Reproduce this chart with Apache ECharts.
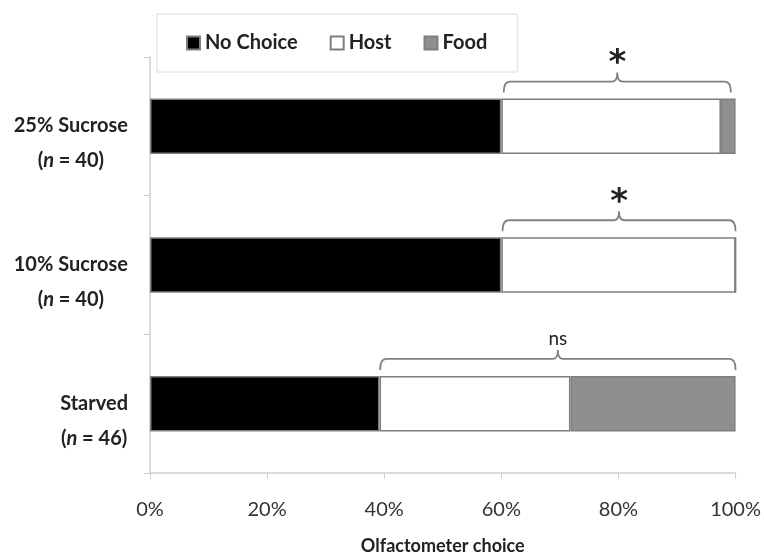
<!DOCTYPE html>
<html>
<head>
<meta charset="utf-8">
<script src="https://cdn.jsdelivr.net/npm/echarts@6/dist/echarts.min.js"></script>
<style>
  html, body { margin: 0; padding: 0; background: #fff; }
  #chart { width: 764px; height: 560px; }
</style>
</head>
<body>
<div id="chart"></div>
<script>
  // data (percent of insects)
  const categories = ['25% Sucrose', '10% Sucrose', 'Starved']
  const sampleSizes = [40, 40, 46]
  const noChoice = [60, 60, 39.2]
  const host = [37.5, 40, 32.6]
  const food = [2.5, 0, 28.2]
  const xTicks = [0, 20, 40, 60, 80, 100]

  // significance brackets over the choosing insects
  const bracketStart = [60.4, 60.2, 39.3]
  const bracketEnd = [99.2, 100, 100]
  const bracketLabels = ['*', '*', 'ns']

  const font = 'Lato, "Open Sans", sans-serif'
  const chart = echarts.init(document.getElementById('chart'))

  const barStyle = (color) => ({
    color: color,
    borderColor: '#7f7f7f',
    borderWidth: 1.5
  })

  function renderBracket(params, api) {
    const x1 = api.value(0)
    const x2 = api.value(1)
    const cat = api.value(2)
    const p1 = api.coord([x1, cat])
    const p2 = api.coord([x2, cat])
    const band = api.size([0, 1])[1]
    const barTop = p1[1] - band * 0.2
    const y = barTop - 17
    const xm = (p1[0] + p2[0]) / 2
    const a = p1[0]
    const b = p2[0]
    const d = 'M' + a + ' ' + (y + 11) +
      ' Q' + a + ' ' + y + ' ' + (a + 6) + ' ' + y +
      ' L' + (xm - 5) + ' ' + y +
      ' Q' + xm + ' ' + y + ' ' + xm + ' ' + (y - 9) +
      ' Q' + xm + ' ' + y + ' ' + (xm + 5) + ' ' + y +
      ' L' + (b - 6) + ' ' + y +
      ' Q' + b + ' ' + y + ' ' + b + ' ' + (y + 11)
    const label = bracketLabels[params.dataIndex]
    const star = label === '*'
    return {
      type: 'group',
      children: [
        {
          type: 'path',
          shape: { pathData: d },
          style: { fill: null, stroke: '#808080', lineWidth: 1.8 }
        },
        {
          type: 'text',
          style: {
            text: label,
            x: xm,
            y: star ? y - 17 : y - 11,
            align: 'center',
            verticalAlign: star ? 'middle' : 'bottom',
            fontSize: star ? 34 : 19,
            fontWeight: star ? 'bold' : 'normal',
            fontFamily: star ? 'DejaVu Sans' : font,
            fill: '#222'
          }
        }
      ]
    }
  }

  chart.setOption({
    animation: false,
    textStyle: { fontFamily: font },
    legend: {
      left: 157,
      top: 14,
      padding: [19, 30, 19, 29],
      itemGap: 32,
      itemWidth: 13,
      itemHeight: 13,
      icon: 'rect',
      borderColor: '#dcdcdc',
      borderWidth: 1,
      textStyle: { fontSize: 20, fontWeight: 'bold', color: '#222' },
      data: ['No Choice', 'Host', 'Food']
    },
    grid: {
      left: 150,
      right: 26,
      top: 57,
      bottom: 82
    },
    xAxis: {
      type: 'value',
      min: 0,
      max: 100,
      interval: 20,
      name: 'Olfactometer choice',
      nameLocation: 'middle',
      nameGap: 64,
      nameTextStyle: { fontSize: 18, fontWeight: 'bold', color: '#222' },
      axisLine: { show: true, lineStyle: { color: '#cfcfcf', width: 1.5 } },
      axisTick: { show: true, length: 6, lineStyle: { color: '#cfcfcf' } },
      splitLine: { show: false },
      axisLabel: {
        margin: 27,
        fontSize: 20,
        color: '#333',
        formatter: (v) => (xTicks.indexOf(v) >= 0 ? v + '%' : '')
      }
    },
    yAxis: {
      type: 'category',
      inverse: true,
      data: categories,
      axisLine: { show: true, lineStyle: { color: '#cfcfcf', width: 1.5 } },
      axisTick: { show: true, length: 6, lineStyle: { color: '#cfcfcf' } },
      axisLabel: {
        margin: 22,
        padding: [34, 0, 0, 0],
        formatter: (v, i) => '{a|' + v + '}\n{b|(}{i|n}{b| = ' + sampleSizes[i] + ')}',
        rich: {
          a: { fontSize: 20, fontWeight: 'bold', color: '#222', lineHeight: 35, align: 'center' },
          b: { fontSize: 20, fontWeight: 'bold', color: '#222', lineHeight: 35, align: 'center' },
          i: { fontSize: 20, fontWeight: 'bold', fontStyle: 'italic', color: '#222', lineHeight: 35, align: 'center' }
        }
      }
    },
    series: [
      {
        name: 'No Choice',
        type: 'bar',
        stack: 'choice',
        barWidth: '40%',
        itemStyle: barStyle('#000000'),
        data: noChoice
      },
      {
        name: 'Host',
        type: 'bar',
        stack: 'choice',
        barWidth: '40%',
        itemStyle: barStyle('#ffffff'),
        data: host
      },
      {
        name: 'Food',
        type: 'bar',
        stack: 'choice',
        barWidth: '40%',
        itemStyle: barStyle('#8f8f8f'),
        data: food
      },
      {
        type: 'custom',
        renderItem: renderBracket,
        encode: { x: [0, 1], y: 2 },
        silent: true,
        z: 5,
        data: categories.map((c, i) => [bracketStart[i], bracketEnd[i], i])
      }
    ]
  })
</script>
</body>
</html>
